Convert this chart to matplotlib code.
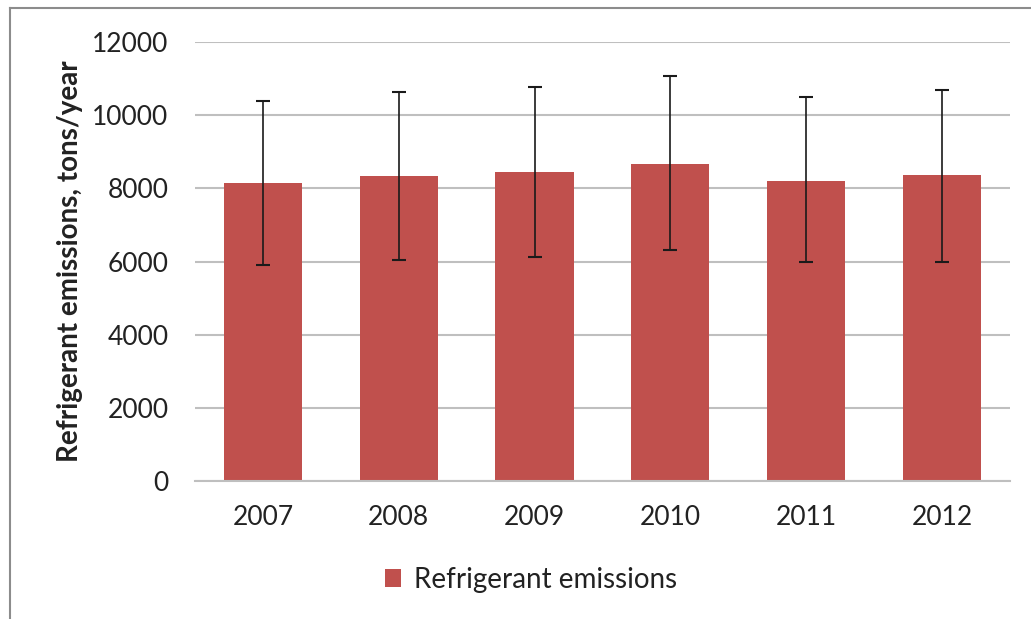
import matplotlib
matplotlib.use("Agg")
from matplotlib import pyplot as plt
from matplotlib.lines import Line2D

# Values
years = ['2007', '2008', '2009', '2010', '2011', '2012']
emissions = [8140, 8330, 8440, 8670, 8210, 8370]
err_low = [2240, 2280, 2320, 2350, 2230, 2385]
err_high = [2255, 2300, 2340, 2410, 2275, 2330]

bar_color = '#C0504D'
grid_color = '#BFBFBF'
text_color = '#222222'

plt.rcParams['font.family'] = ['Lato', 'DejaVu Sans']

fig = plt.figure(figsize=(10.31, 6.19), dpi=100)
ax = fig.add_axes([0.1891, 0.2229, 0.7905, 0.7092])

x = range(len(years))
ax.bar(x, emissions, width=0.575, color=bar_color, zorder=2,
       label='Refrigerant emissions')
ax.errorbar(x, emissions, yerr=[err_low, err_high], fmt='none',
            ecolor='#1a1a1a', elinewidth=1.2, capsize=5, capthick=1.5, zorder=3)

ax.set_xlim(-0.5, len(years) - 0.5)
ax.set_ylim(0, 12000)
ax.set_yticks(range(0, 12001, 2000))
ax.set_xticks(list(x))
ax.set_xticklabels(years)

# Excel-like styling: horizontal gridlines only, no spines except baseline
ax.yaxis.grid(True, color=grid_color, linewidth=1.5, zorder=0)
ax.set_axisbelow(True)
for side in ['top', 'right', 'left']:
    ax.spines[side].set_visible(False)
ax.spines['bottom'].set_color(grid_color)
ax.spines['bottom'].set_linewidth(1.5)
ax.tick_params(axis='both', length=0, labelsize=19, colors=text_color)
ax.tick_params(axis='y', pad=19)
ax.tick_params(axis='x', pad=17)

ax.set_ylabel('Refrigerant emissions, tons/year', fontsize=20,
              fontweight='bold', color=text_color)
ax.yaxis.set_label_coords(-0.1374, 0.5)

ax.legend(loc='center', bbox_to_anchor=(0.412, -0.225), frameon=False,
          fontsize=20, handlelength=0.6, handleheight=0.6, handletextpad=0.45,
          labelcolor=text_color)

# screenshot frame on the left and top edges
fig.add_artist(Line2D([0.0097, 0.0097], [0, 0.987], transform=fig.transFigure,
                      color='#8c8c8c', linewidth=1.5))
fig.add_artist(Line2D([0.0097, 1], [0.987, 0.987], transform=fig.transFigure,
                      color='#8c8c8c', linewidth=1.5))

plt.savefig('out.png', dpi=100)
plt.close(fig)
